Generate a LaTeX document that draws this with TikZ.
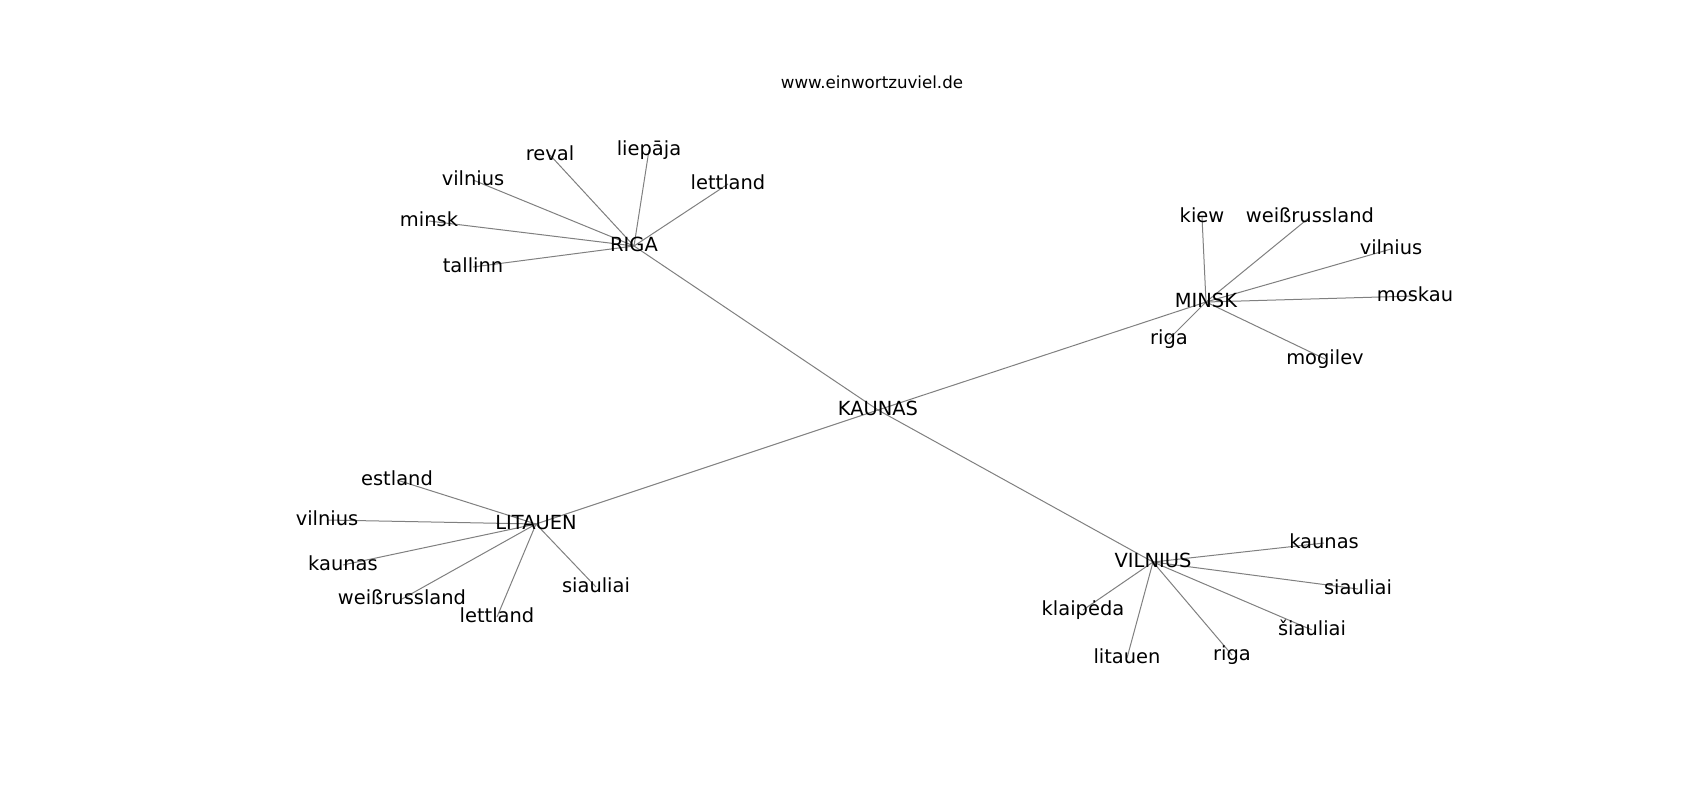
\documentclass[tikz,border=0pt]{standalone}
\usepackage{fontspec}
\setmainfont{DejaVu Sans}
\begin{document}
\begin{tikzpicture}[x=0.72bp,y=-0.72bp,
  lbl/.style={anchor=base,inner sep=0pt,yshift=-3.6bp,font=\fontsize{14bp}{16bp}\selectfont},
  ttl/.style={anchor=base,inner sep=0pt,font=\fontsize{12bp}{14bp}\selectfont},
  edge/.style={draw=black!50,line width=0.72bp}]
\useasboundingbox (0,0) rectangle (1700,800);
\fill[white] (0,0) rectangle (1700,800);
\node[ttl] (title) at (872,88) {www.einwortzuviel.de};
% hubs
\coordinate (kaunas) at (878,410);
\coordinate (riga) at (634,246);
\coordinate (minsk) at (1206,302);
\coordinate (litauen) at (536,524);
\coordinate (vilnius) at (1153,562);
% riga leaves
\coordinate (r1) at (550,155);
\coordinate (r2) at (649,150);
\coordinate (r3) at (728,184);
\coordinate (r4) at (473,180);
\coordinate (r5) at (429,221);
\coordinate (r6) at (473,267);
% minsk leaves
\coordinate (m1) at (1202,217);
\coordinate (m2) at (1310,217);
\coordinate (m3) at (1391,249);
\coordinate (m4) at (1415,296);
\coordinate (m5) at (1169,339);
\coordinate (m6) at (1325,359);
% litauen leaves
\coordinate (l1) at (397,480);
\coordinate (l2) at (327,520);
\coordinate (l3) at (343,565);
\coordinate (l4) at (402,599);
\coordinate (l5) at (497,617);
\coordinate (l6) at (596,587);
% vilnius leaves
\coordinate (v1) at (1324,543);
\coordinate (v2) at (1358,589);
\coordinate (v3) at (1083,610);
\coordinate (v4) at (1312,630);
\coordinate (v5) at (1127,658);
\coordinate (v6) at (1232,655);
% edges
\foreach \a/\b in {kaunas/riga,kaunas/minsk,kaunas/litauen,kaunas/vilnius,
  riga/r1,riga/r2,riga/r3,riga/r4,riga/r5,riga/r6,
  minsk/m1,minsk/m2,minsk/m3,minsk/m4,minsk/m5,minsk/m6,
  litauen/l1,litauen/l2,litauen/l3,litauen/l4,litauen/l5,litauen/l6,
  vilnius/v1,vilnius/v2,vilnius/v3,vilnius/v4,vilnius/v5,vilnius/v6}
  \draw[edge] (\a) -- (\b);
% labels
\node[lbl] (tkaunas) at (kaunas) {KAUNAS};
\node[lbl] (triga) at (riga) {RIGA};
\node[lbl] (tminsk) at (minsk) {MINSK};
\node[lbl] (tlitauen) at (litauen) {LITAUEN};
\node[lbl] (tvilnius) at (vilnius) {VILNIUS};
\node[lbl] (tr1) at (r1) {reval};
\node[lbl] (tr2) at (r2) {liepāja};
\node[lbl] (tr3) at (r3) {lettland};
\node[lbl] (tr4) at (r4) {vilnius};
\node[lbl] (tr5) at (r5) {minsk};
\node[lbl] (tr6) at (r6) {tallinn};
\node[lbl] (tm1) at (m1) {kiew};
\node[lbl] (tm2) at (m2) {weißrussland};
\node[lbl] (tm3) at (m3) {vilnius};
\node[lbl] (tm4) at (m4) {moskau};
\node[lbl] (tm5) at (m5) {riga};
\node[lbl] (tm6) at (m6) {mogilev};
\node[lbl] (tl1) at (l1) {estland};
\node[lbl] (tl2) at (l2) {vilnius};
\node[lbl] (tl3) at (l3) {kaunas};
\node[lbl] (tl4) at (l4) {weißrussland};
\node[lbl] (tl5) at (l5) {lettland};
\node[lbl] (tl6) at (l6) {siauliai};
\node[lbl] (tv1) at (v1) {kaunas};
\node[lbl] (tv2) at (v2) {siauliai};
\node[lbl] (tv3) at (v3) {klaipėda};
\node[lbl] (tv4) at (v4) {šiauliai};
\node[lbl] (tv5) at (v5) {litauen};
\node[lbl] (tv6) at (v6) {riga};
\end{tikzpicture}
\end{document}
